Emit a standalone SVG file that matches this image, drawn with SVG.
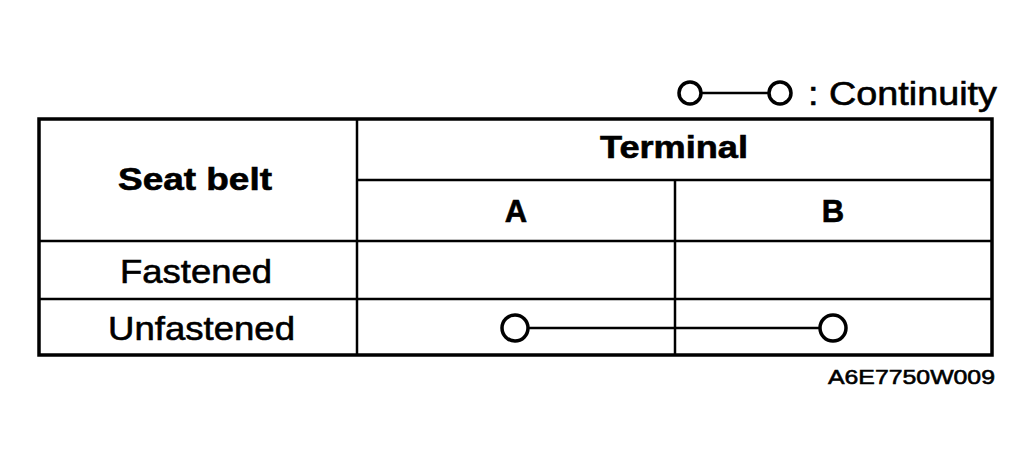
<svg xmlns="http://www.w3.org/2000/svg" width="1035" height="458" viewBox="0 0 1035 458">
<style>
.t{font-family:"Liberation Sans",Arial,sans-serif;fill:#000;text-anchor:middle;stroke:#000;stroke-width:0.6}
.b{font-weight:bold;font-size:31px}
.r{font-size:33px}
.l{stroke:#000;stroke-width:2.5;fill:none}
.c{stroke:#000;stroke-width:3.5;fill:#fff}
</style>
<rect width="1035" height="458" fill="#fff"/>
<g id="legend">
<line class="l" x1="700" y1="93" x2="770" y2="93" stroke-width="3"/>
<circle class="c" cx="690" cy="93" r="11"/>
<circle class="c" cx="780" cy="93" r="11"/>
<text class="t" x="808" y="105" font-size="33" textLength="189" lengthAdjust="spacingAndGlyphs" style="text-anchor:start">: Continuity</text>
</g>
<g id="table">
<rect x="39" y="119" width="953" height="236" fill="none" stroke="#000" stroke-width="3.5"/>
<line class="l" x1="357" y1="119" x2="357" y2="355"/>
<line class="l" x1="357" y1="180" x2="992" y2="180"/>
<line class="l" x1="675" y1="180" x2="675" y2="355"/>
<line class="l" x1="39" y1="241" x2="992" y2="241"/>
<line class="l" x1="39" y1="299" x2="992" y2="299"/>
</g>
<g id="labels">
<text class="t b" x="118" y="190" textLength="154" lengthAdjust="spacingAndGlyphs" style="text-anchor:start">Seat belt</text>
<text class="t b" x="600" y="158" textLength="148" lengthAdjust="spacingAndGlyphs" style="text-anchor:start">Terminal</text>
<text class="t b" x="516" y="222">A</text>
<text class="t b" x="833" y="222">B</text>
<text class="t r" x="120" y="283" textLength="152" lengthAdjust="spacingAndGlyphs" style="text-anchor:start">Fastened</text>
<text class="t r" x="108" y="340" textLength="187" lengthAdjust="spacingAndGlyphs" style="text-anchor:start">Unfastened</text>
<text class="t" x="828" y="384" font-size="21" textLength="167" lengthAdjust="spacingAndGlyphs" style="text-anchor:start">A6E7750W009</text>
</g>
<g id="connectors">
<line class="l" x1="528" y1="328" x2="820" y2="328" stroke-width="3"/>
<circle class="c" cx="515" cy="328" r="13"/>
<circle class="c" cx="833" cy="328" r="13"/>
</g>
</svg>
